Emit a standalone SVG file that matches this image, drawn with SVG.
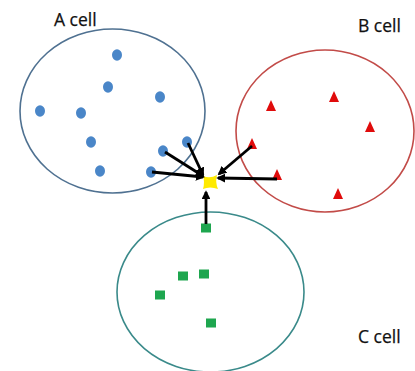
<svg xmlns="http://www.w3.org/2000/svg" width="415" height="371" viewBox="0 0 415 371">
  <style>
    .label { font-family: "Open Sans", "Liberation Sans", sans-serif; font-size: 17.5px; fill: #111; stroke: #111; stroke-width: 0.25; }
    .cell { fill: none; stroke-width: 1.6; }
    .dot { fill: #4a86c8; }
    .tri { fill: #e00b0b; }
    .sq { fill: #1ea64f; }
    .link { stroke: #000; stroke-width: 2.8; fill: none; marker-end: url(#head); }
  </style>
  <defs>
    <marker id="head" viewBox="0 0 10 10" refX="8" refY="5" markerWidth="3.2" markerHeight="3.2" orient="auto" markerUnits="strokeWidth">
      <path d="M0,0 L10,5 L0,10 z" fill="#000"/>
    </marker>
  </defs>
  <rect width="415" height="371" fill="#fff"/>

  <!-- A cell -->
  <g id="cell-a">
    <ellipse class="cell" cx="112.5" cy="111" rx="92.5" ry="82" stroke="#4f7191"/>
    <text class="label" x="54" y="26">A cell</text>
    <ellipse class="dot" cx="117" cy="55" rx="5" ry="5.8"/>
    <ellipse class="dot" cx="108" cy="87" rx="5" ry="5.8"/>
    <ellipse class="dot" cx="160" cy="97" rx="5" ry="5.8"/>
    <ellipse class="dot" cx="40" cy="111" rx="5" ry="5.8"/>
    <ellipse class="dot" cx="81" cy="113" rx="5" ry="5.8"/>
    <ellipse class="dot" cx="91" cy="142" rx="5" ry="5.8"/>
    <ellipse class="dot" cx="163" cy="151" rx="5" ry="5.8"/>
    <ellipse class="dot" cx="187" cy="142" rx="5" ry="5.8"/>
    <ellipse class="dot" cx="100" cy="171" rx="5" ry="5.8"/>
    <ellipse class="dot" cx="151" cy="172" rx="5" ry="5.8"/>
  </g>

  <!-- B cell -->
  <g id="cell-b">
    <ellipse class="cell" cx="325" cy="131" rx="89" ry="81" stroke="#c24b48"/>
    <text class="label" x="358" y="32">B cell</text>
    <path class="tri" d="M271,100 L276,111 L266,111 z"/>
    <path class="tri" d="M334,91 L339,102 L329,102 z"/>
    <path class="tri" d="M370,121 L375,132 L365,132 z"/>
    <path class="tri" d="M252,138 L257,149 L247,149 z"/>
    <path class="tri" d="M277,169 L282,180 L272,180 z"/>
    <path class="tri" d="M338,188 L343,199 L333,199 z"/>
  </g>

  <!-- C cell -->
  <g id="cell-c">
    <ellipse class="cell" cx="210.5" cy="292" rx="93.5" ry="80" stroke="#3a8a8a"/>
    <text class="label" x="358" y="343">C cell</text>
    <rect class="sq" x="201" y="223.5" width="10" height="9"/>
    <rect class="sq" x="178" y="271.5" width="10" height="9"/>
    <rect class="sq" x="199" y="269.5" width="10" height="9"/>
    <rect class="sq" x="155" y="290.5" width="10" height="9"/>
    <rect class="sq" x="206" y="318.5" width="10" height="9"/>
  </g>

  <!-- shared target -->
  <g id="target">
    <path d="M203,176 Q210,179 217,175 Q215,182 218,189 Q210,186 203,189 Q205,182 203,176 z" fill="#ffea00"/>
  </g>

  <!-- connectors -->
  <g id="connectors">
    <line class="link" x1="152" y1="172" x2="203" y2="177"/>
    <line class="link" x1="165" y1="152" x2="203" y2="176"/>
    <line class="link" x1="188" y1="143" x2="203" y2="175"/>
    <line class="link" x1="252" y1="146" x2="219" y2="174"/>
    <line class="link" x1="277" y1="179" x2="218" y2="178"/>
    <line class="link" x1="206" y1="224" x2="206" y2="192"/>
  </g>
</svg>
